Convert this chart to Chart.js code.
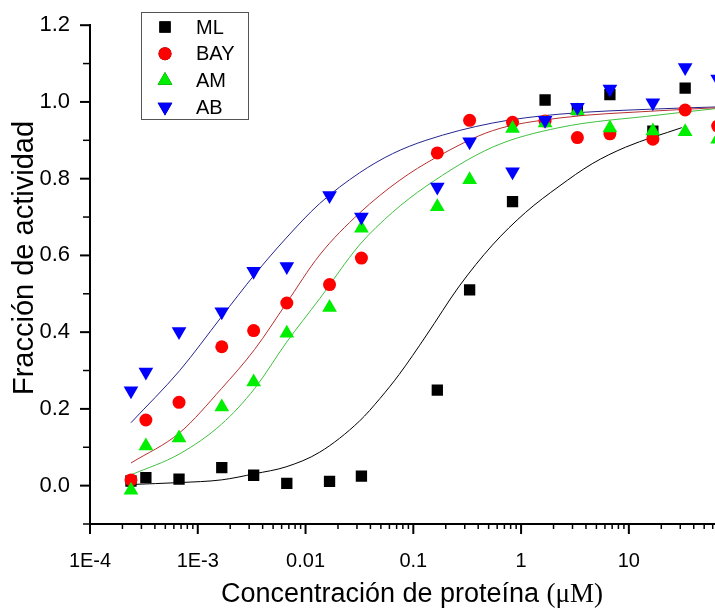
<!DOCTYPE html>
<html>
<head>
<meta charset="utf-8">
<script src="https://cdn.jsdelivr.net/npm/chart.js@4.4.1/dist/chart.umd.min.js"></script>
<style>
    body { margin: 0; background: #fff; }
    #wrap { width: 715px; height: 611px; }
</style>
</head>
<body>
<div id="wrap"><canvas id="myChart" width="715" height="611"></canvas></div>
<script>
// Concentraciones de proteína (µM) de los puntos medidos
const concentraciones = [0.00024, 0.00033, 0.00067, 0.00167, 0.0033, 0.0067, 0.0167, 0.033, 0.167, 0.333, 0.833, 1.67, 3.33, 6.67, 16.7, 33.3, 66.7];

// Fracción de actividad medida
const puntosML  = [0.012, 0.021, 0.017, 0.047, 0.027, 0.006, 0.011, 0.025, 0.249, 0.51, 0.74, 1.005, 0.98, 1.019, 0.924, 1.036, null];
const puntosBAY = [0.015, 0.171, 0.217, 0.362, 0.404, 0.476, 0.524, 0.593, 0.867, 0.952, 0.947, 0.95, 0.907, 0.917, 0.903, 0.979, 0.937];
const puntosAM  = [-0.012, 0.103, 0.124, 0.205, 0.27, 0.397, 0.464, 0.671, 0.727, 0.797, 0.931, 0.945, 0.977, 0.932, 0.924, 0.922, 0.903];
const puntosAB  = [0.247, 0.296, 0.402, 0.453, 0.559, 0.571, 0.756, 0.7, 0.778, 0.896, 0.818, 0.952, 0.986, 1.034, 0.998, 1.09, 1.06];

// Curvas de ajuste
const ajusteX_ML  = [0.00024, 0.00068, 0.00166, 0.00337, 0.0066, 0.0135, 0.0316, 0.049, 0.074, 0.131, 0.267, 0.542, 1.1, 2.25, 4.57, 9.3, 31];
const ajusteML    = [0.003, 0.008, 0.015, 0.031, 0.049, 0.087, 0.168, 0.227, 0.29, 0.39, 0.52, 0.627, 0.712, 0.78, 0.839, 0.882, 0.933];
const ajusteX_BAY = [0.00024, 0.00068, 0.00166, 0.00337, 0.0066, 0.0135, 0.0316, 0.074, 0.162, 0.542, 2.25, 19, 66];
const ajusteBAY   = [0.059, 0.138, 0.253, 0.355, 0.474, 0.601, 0.71, 0.795, 0.855, 0.925, 0.958, 0.977, 0.985];
const ajusteX_AM  = [0.00024, 0.00068, 0.00166, 0.00337, 0.0066, 0.0135, 0.0316, 0.064, 0.131, 0.542, 2.25, 19, 66];
const ajusteAM    = [0.028, 0.083, 0.16, 0.253, 0.372, 0.487, 0.627, 0.712, 0.78, 0.882, 0.933, 0.966, 0.983];
const ajusteX_AB  = [0.00024, 0.00068, 0.00166, 0.00337, 0.0066, 0.0135, 0.0316, 0.064, 0.131, 0.542, 2.25, 19, 66];
const ajusteAB    = [0.164, 0.30, 0.44, 0.55, 0.645, 0.735, 0.815, 0.865, 0.9, 0.945, 0.968, 0.982, 0.987];

// Etiquetas de los ejes
const decadasX   = [1e-4, 1e-3, 1e-2, 1e-1, 1, 10];
const etiquetasX = ['1E-4', '1E-3', '0.01', '0.1', '1', '10'];
const etiquetasY = ['0.0', '0.2', '0.4', '0.6', '0.8', '1.0', '1.2'];

const nombres = ['ML', 'BAY', 'AM', 'AB'];
const FUENTE = '"Liberation Sans", Arial, sans-serif';
const SERIF = '"Liberation Serif", "Times New Roman", serif';

function pares(xs, ys) {
    return xs.map((x, i) => ({ x: x, y: ys[i] })).filter(p => p.y !== null);
}

function serie(label, datos, color, estilo, radio, rotacion, orden) {
    return {
        label: label,
        data: pares(concentraciones, datos),
        showLine: false,
        pointStyle: estilo,
        pointRadius: radio,
        pointRotation: rotacion,
        pointBackgroundColor: color,
        pointBorderColor: color,
        pointBorderWidth: 0,
        order: orden
    };
}

function curva(xs, ys, color) {
    return {
        data: pares(xs, ys),
        showLine: true,
        borderColor: color,
        borderWidth: 1,
        pointRadius: 0,
        cubicInterpolationMode: 'monotone',
        order: 10
    };
}

// Marcas de los ejes, títulos y leyenda dibujados a mano
const extras = {
    id: 'extras',
    afterDraw(chart) {
        const ctx = chart.ctx;
        const xs = chart.scales.x;
        const ys = chart.scales.y;
        const area = chart.chartArea;
        ctx.save();
        ctx.strokeStyle = '#000';

        // marcas eje x
        decadasX.forEach(d => {
            for (let m = 1; m <= 9; m++) {
                const v = d * m;
                if (v > xs.max) break;
                const px = xs.getPixelForValue(v);
                ctx.lineWidth = m === 1 ? 2 : 1.5;
                ctx.beginPath();
                ctx.moveTo(px, area.bottom);
                ctx.lineTo(px, area.bottom + (m === 1 ? 10 : 5));
                ctx.stroke();
            }
        });

        // marcas eje y
        for (let k = -1; k <= 12; k++) {
            const py = ys.getPixelForValue(k / 10);
            const mayor = k >= 0 && k % 2 === 0;
            ctx.lineWidth = mayor ? 2 : 1.5;
            ctx.beginPath();
            ctx.moveTo(area.left - (mayor ? 10 : 7), py);
            ctx.lineTo(area.left, py);
            ctx.stroke();
        }

        // título eje y
        ctx.fillStyle = '#000';
        ctx.save();
        ctx.translate(25, 258);
        ctx.rotate(-Math.PI / 2);
        ctx.font = '29px ' + FUENTE;
        ctx.textAlign = 'center';
        ctx.textBaseline = 'middle';
        ctx.fillText('Fracción de actividad', 0, 0);
        ctx.restore();

        // título eje x (unidad en fuente serif)
        const parte1 = 'Concentración de proteína ';
        const parte2 = '(\u03BCM)';
        ctx.font = '27px ' + FUENTE;
        const w1 = ctx.measureText(parte1).width;
        ctx.font = '27px ' + SERIF;
        const w2 = ctx.measureText(parte2).width;
        const x0 = 412 - (w1 + w2) / 2;
        ctx.textAlign = 'left';
        ctx.textBaseline = 'middle';
        ctx.font = '27px ' + FUENTE;
        ctx.fillText(parte1, x0, 595);
        ctx.font = '27px ' + SERIF;
        ctx.fillText(parte2, x0 + w1, 595);

        // leyenda
        ctx.lineWidth = 1;
        ctx.strokeStyle = '#555';
        ctx.strokeRect(141.5, 12.5, 107, 107);
        ctx.font = '20px ' + FUENTE;
        ctx.textBaseline = 'middle';
        nombres.forEach((n, i) => {
            const ds = chart.data.datasets[i];
            const y = 27 + i * 26.7;
            Chart.helpers.drawPoint(ctx, {
                pointStyle: ds.pointStyle,
                radius: ds.pointRadius,
                rotation: ds.pointRotation,
                borderWidth: 0
            }, 165, y);
            ctx.fillStyle = ds.pointBackgroundColor;
            ctx.fill();
            ctx.fillStyle = '#000';
            ctx.fillText(n, 196, y + 1);
        });
        ctx.restore();
    }
};

const ctx = document.getElementById('myChart');
new Chart(ctx, {
    type: 'scatter',
    data: {
        datasets: [
            serie('ML', puntosML, '#000000', 'rect', 8, 0, 4),
            serie('BAY', puntosBAY, '#ff0000', 'circle', 6.5, 0, 3),
            serie('AM', puntosAM, '#00ee00', 'triangle', 8.5, 0, 2),
            serie('AB', puntosAB, '#0000ff', 'triangle', 8.5, 180, 1),
            curva(ajusteX_ML, ajusteML, '#000000'),
            curva(ajusteX_BAY, ajusteBAY, '#b83030'),
            curva(ajusteX_AM, ajusteAM, '#40c040'),
            curva(ajusteX_AB, ajusteAB, '#252590')
        ]
    },
    options: {
        responsive: false,
        animation: false,
        devicePixelRatio: 1,
        layout: { autoPadding: false, padding: { left: 0, right: 0, top: 15, bottom: 0 } },
        plugins: {
            legend: { display: false },
            tooltip: { enabled: false }
        },
        scales: {
            x: {
                type: 'logarithmic',
                min: 1e-4,
                max: 63,
                afterFit: s => { s.height = 87; s.paddingLeft = 0; s.paddingRight = 0; },
                grid: { display: false },
                border: { display: true, width: 2, color: '#000' },
                ticks: {
                    autoSkip: false,
                    maxRotation: 0,
                    padding: 17,
                    color: '#000',
                    font: { family: FUENTE, size: 20 },
                    callback: function (value) {
                        const i = decadasX.findIndex(d => Math.abs(value / d - 1) < 1e-6);
                        return i >= 0 ? etiquetasX[i] : '';
                    }
                }
            },
            y: {
                min: -0.1,
                max: 1.2,
                afterFit: s => { s.width = 90; },
                grid: { display: false },
                border: { display: true, width: 2, color: '#000' },
                ticks: {
                    stepSize: 0.1,
                    padding: 12,
                    color: '#000',
                    font: { family: FUENTE, size: 22 },
                    callback: function (value) {
                        const k = Math.round(value * 10);
                        return (k >= 0 && k % 2 === 0) ? etiquetasY[k / 2] : '';
                    }
                }
            }
        }
    },
    plugins: [extras]
});
</script>
</body>
</html>
